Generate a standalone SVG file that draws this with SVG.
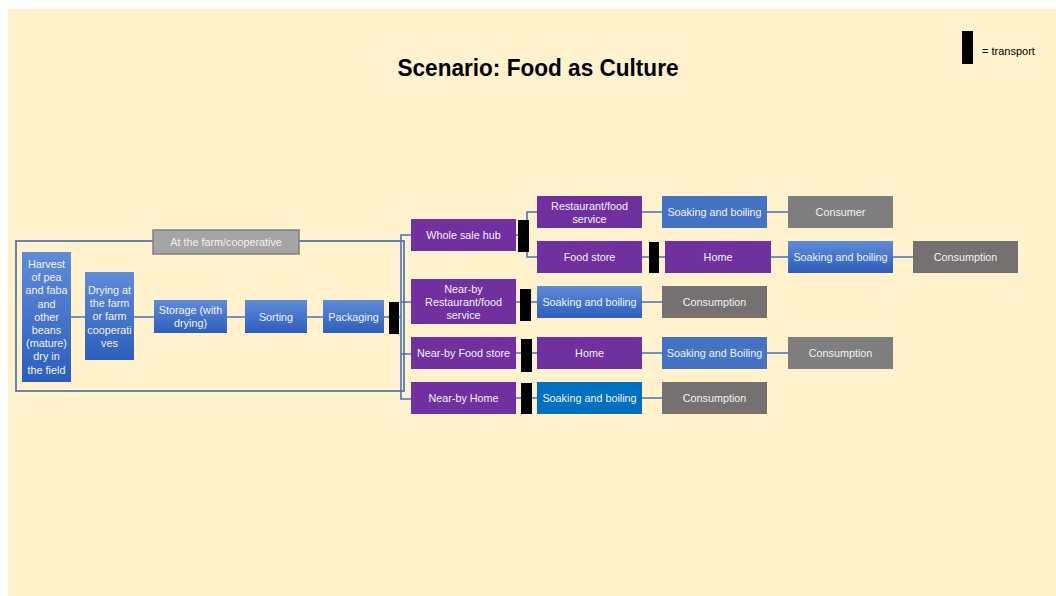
<svg xmlns="http://www.w3.org/2000/svg" width="1056" height="596" viewBox="0 0 1056 596">
  <defs>
    <linearGradient id="blueGrad" x1="0" y1="0" x2="0" y2="1">
      <stop offset="0" stop-color="#5f8bd8"/>
      <stop offset="1" stop-color="#2d5ebd"/>
    </linearGradient>
    <style>
      .bg { fill: #fff2cc; }
      .grad { fill: url(#blueGrad); }
      .blue { fill: #4472c4; }
      .deepblue { fill: #0070c0; }
      .purple { fill: #7030a0; }
      .gray { fill: #7f7f7f; }
      .dgray { fill: #767171; }
      .bar { fill: #000000; }
      .lbl { font-family: "Liberation Sans", Arial, sans-serif; font-size: 10.8px; fill: #f2f2f2; text-anchor: middle; }
      .conn { fill: none; stroke: #4472c4; stroke-width: 1.6; }
      .frame { fill: none; stroke: #4169ad; stroke-width: 1.6; }
    </style>
  </defs>

  <rect class="bg" x="8" y="9" width="1048" height="587"/>

  <!-- Title -->
  <text x="538" y="76" font-family="Liberation Sans, Arial, sans-serif" font-size="23.5" font-weight="bold" fill="#000" text-anchor="middle" textLength="281" lengthAdjust="spacingAndGlyphs">Scenario: Food as Culture</text>

  <!-- Legend -->
  <g id="legend">
    <rect class="bar" x="962" y="31" width="11" height="33"/>
    <text x="982" y="55" font-family="Liberation Sans, Arial, sans-serif" font-size="11" fill="#000">= transport</text>
  </g>

  <!-- Connectors -->
  <g id="connectors">
    <!-- farm container -->
    <rect class="frame" x="16" y="241" width="388" height="150"/>
    <!-- farm chain -->
    <path class="conn" d="M71 317 H85 M134 317 H154 M227 317 H245 M307 317 H323 M384 317 H401"/>
    <!-- distribution bus -->
    <path class="conn" d="M411 235 H401 V399 H411 M401 302 H411 M401 354 H411"/>
    <!-- wholesale branch -->
    <path class="conn" d="M516 235 H527 M537 212 H527 V257 H537"/>
    <path class="conn" d="M642 212 H662 M767 212 H788"/>
    <path class="conn" d="M642 257 H665 M771 257 H788 M893 257 H913"/>
    <!-- near-by rows -->
    <path class="conn" d="M516 302 H537 M642 302 H662"/>
    <path class="conn" d="M516 353 H537 M642 353 H662 M767 353 H788"/>
    <path class="conn" d="M516 398 H537 M642 398 H662"/>
  </g>

  <!-- Farm label -->
  <g id="farm-label">
    <rect x="153" y="230" width="146" height="24" fill="#a5a5a5" stroke="#7f7f7f" stroke-width="1.5"/>
    <text class="lbl" x="226" y="246" font-size="11.5">At the farm/cooperative</text>
  </g>

  <!-- Farm stage nodes -->
  <g id="harvest">
    <rect class="grad" x="22" y="252" width="49" height="130"/>
    <text class="lbl"><tspan x="46.5" y="268">Harvest</tspan><tspan x="46.5" y="281.2">of pea</tspan><tspan x="46.5" y="294.4">and faba</tspan><tspan x="46.5" y="307.6">and</tspan><tspan x="46.5" y="320.8">other</tspan><tspan x="46.5" y="334">beans</tspan><tspan x="46.5" y="347.2">(mature)</tspan><tspan x="46.5" y="360.4">dry in</tspan><tspan x="46.5" y="373.6">the field</tspan></text>
  </g>
  <g id="drying">
    <rect class="grad" x="85" y="272" width="49" height="88"/>
    <text class="lbl"><tspan x="109.5" y="294">Drying at</tspan><tspan x="109.5" y="307.2">the farm</tspan><tspan x="109.5" y="320.4">or farm</tspan><tspan x="109.5" y="333.6">cooperati</tspan><tspan x="109.5" y="346.8">ves</tspan></text>
  </g>
  <g id="storage">
    <rect class="grad" x="154" y="300" width="73" height="33"/>
    <text class="lbl"><tspan x="190.5" y="313.5">Storage (with</tspan><tspan x="190.5" y="326.7">drying)</tspan></text>
  </g>
  <g id="sorting">
    <rect class="grad" x="245" y="300" width="62" height="33"/>
    <text class="lbl" x="276" y="320.5">Sorting</text>
  </g>
  <g id="packaging">
    <rect class="grad" x="323" y="300" width="61" height="33"/>
    <text class="lbl" x="353.5" y="320.5">Packaging</text>
  </g>
  <g id="transport-farm"><rect class="bar" x="389" y="302" width="10" height="32"/></g>

  <!-- Wholesale route -->
  <g id="wholesale-hub">
    <rect class="purple" x="411" y="219" width="105" height="32"/>
    <text class="lbl" x="463.5" y="238.5">Whole sale hub</text>
  </g>
  <g id="transport-hub"><rect class="bar" x="518" y="220" width="11" height="32"/></g>
  <g id="restaurant">
    <rect class="purple" x="537" y="196" width="105" height="32"/>
    <text class="lbl"><tspan x="589.5" y="209.5">Restaurant/food</tspan><tspan x="589.5" y="222.7">service</tspan></text>
  </g>
  <g id="food-store">
    <rect class="purple" x="537" y="241" width="105" height="32"/>
    <text class="lbl" x="589.5" y="260.5">Food store</text>
  </g>
  <g id="restaurant-soaking">
    <rect class="blue" x="662" y="196" width="105" height="32"/>
    <text class="lbl" x="714.5" y="215.5">Soaking and boiling</text>
  </g>
  <g id="consumer">
    <rect class="gray" x="788" y="196" width="105" height="32"/>
    <text class="lbl" x="840.5" y="215.5">Consumer</text>
  </g>
  <g id="transport-store"><rect class="bar" x="649" y="242" width="10" height="31"/></g>
  <g id="store-home">
    <rect class="purple" x="665" y="241" width="106" height="32"/>
    <text class="lbl" x="718" y="260.5">Home</text>
  </g>
  <g id="store-soaking">
    <rect class="grad" x="788" y="241" width="105" height="32"/>
    <text class="lbl" x="840.5" y="260.5">Soaking and boiling</text>
  </g>
  <g id="store-consumption">
    <rect class="dgray" x="913" y="241" width="105" height="32"/>
    <text class="lbl" x="965.5" y="260.5">Consumption</text>
  </g>

  <!-- Near-by restaurant route -->
  <g id="nearby-restaurant">
    <rect class="purple" x="411" y="279" width="105" height="45"/>
    <text class="lbl"><tspan x="463.5" y="292.5">Near-by</tspan><tspan x="463.5" y="305.7">Restaurant/food</tspan><tspan x="463.5" y="318.9">service</tspan></text>
  </g>
  <g id="transport-nearby-restaurant"><rect class="bar" x="520" y="289" width="11" height="32"/></g>
  <g id="nearby-restaurant-soaking">
    <rect class="grad" x="537" y="286" width="105" height="32"/>
    <text class="lbl" x="589.5" y="305.5">Soaking and boiling</text>
  </g>
  <g id="nearby-restaurant-consumption">
    <rect class="dgray" x="662" y="286" width="105" height="32"/>
    <text class="lbl" x="714.5" y="305.5">Consumption</text>
  </g>

  <!-- Near-by food store route -->
  <g id="nearby-store">
    <rect class="purple" x="411" y="337" width="105" height="32"/>
    <text class="lbl" x="463.5" y="356.5">Near-by Food store</text>
  </g>
  <g id="transport-nearby-store"><rect class="bar" x="521" y="339" width="11" height="33"/></g>
  <g id="nearby-store-home">
    <rect class="purple" x="537" y="337" width="105" height="32"/>
    <text class="lbl" x="589.5" y="356.5">Home</text>
  </g>
  <g id="nearby-store-soaking">
    <rect class="blue" x="662" y="337" width="105" height="32"/>
    <text class="lbl" x="714.5" y="356.5">Soaking and Boiling</text>
  </g>
  <g id="nearby-store-consumption">
    <rect class="gray" x="788" y="337" width="105" height="32"/>
    <text class="lbl" x="840.5" y="356.5">Consumption</text>
  </g>

  <!-- Near-by home route -->
  <g id="nearby-home">
    <rect class="purple" x="411" y="382" width="105" height="32"/>
    <text class="lbl" x="463.5" y="401.5">Near-by Home</text>
  </g>
  <g id="transport-nearby-home"><rect class="bar" x="521" y="383" width="11" height="31"/></g>
  <g id="nearby-home-soaking">
    <rect class="deepblue" x="537" y="382" width="105" height="32"/>
    <text class="lbl" x="589.5" y="401.5">Soaking and boiling</text>
  </g>
  <g id="nearby-home-consumption">
    <rect class="dgray" x="662" y="382" width="105" height="32"/>
    <text class="lbl" x="714.5" y="401.5">Consumption</text>
  </g>
</svg>
